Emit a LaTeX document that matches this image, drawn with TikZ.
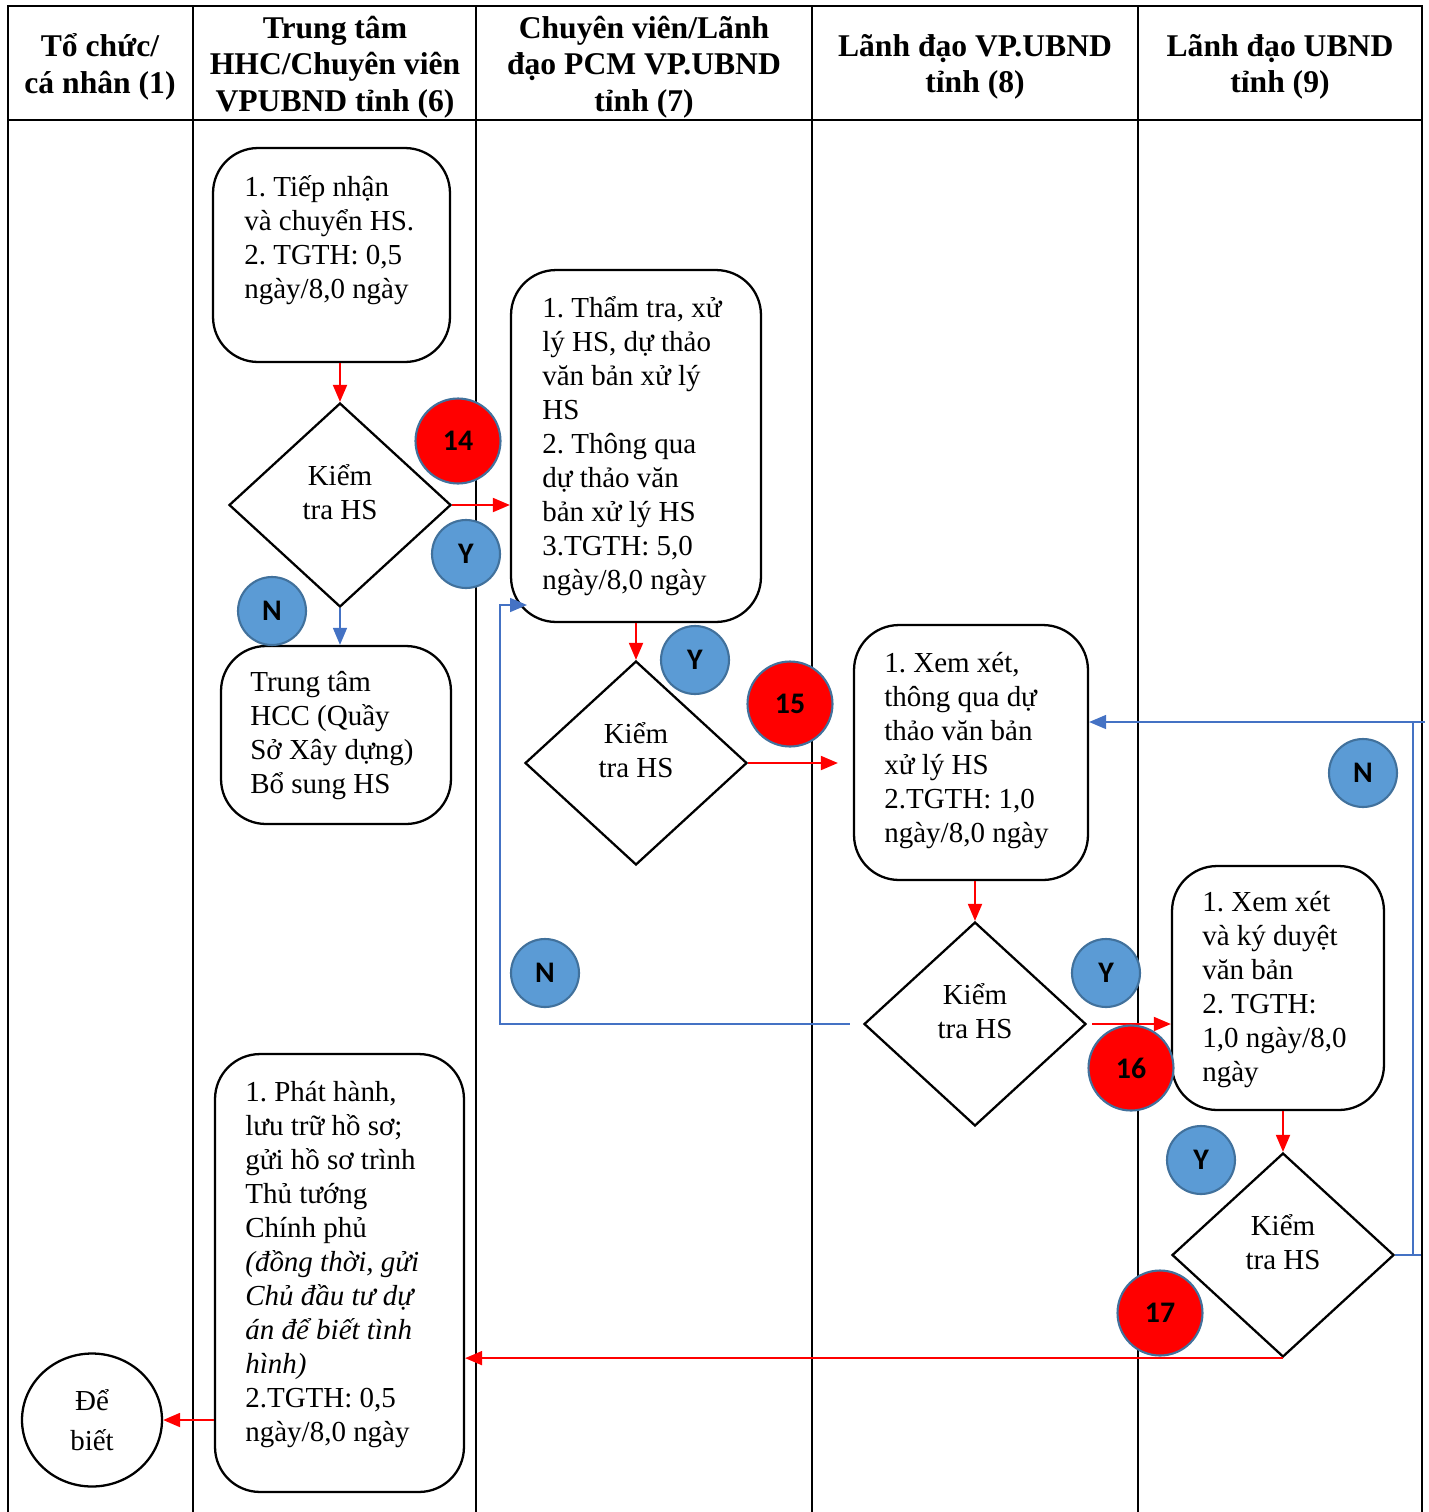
\documentclass[tikz,border=0pt]{standalone}
\usepackage{fontspec}
\setmainfont{Liberation Serif}
\newfontfamily\badgefont{Carlito}
\usetikzlibrary{arrows.meta, positioning, shapes.geometric, calc}
\definecolor{badgeblue}{HTML}{5B9BD5}
\definecolor{badgeedge}{HTML}{41719C}
\definecolor{linkblue}{HTML}{4472C4}
\frenchspacing
\tikzset{
    stepbox/.style={draw, line width=1.3pt, rounded corners=0.9cm, minimum width=#1},
    stepbox/.default=4.7cm
}

\begin{document}
\begin{tikzpicture}[
    x=0.02cm, y=-0.02cm,
    grid/.style={line width=1.1pt},
    head/.style={align=center, inner sep=0pt, yshift=-0.06cm, font=\fontsize{18}{20.8}\selectfont\bfseries},
    steptext/.style={anchor=west, align=left, inner sep=0pt, yshift=-0.06cm, font=\fontsize{16.5}{19.35}\selectfont},
    check/.style={diamond, draw, line width=1.3pt, minimum width=4.44cm, minimum height=4.08cm,
                  inner sep=0pt, align=center, text depth=0.54cm, font=\fontsize{16.5}{19.35}\selectfont},
    yesno/.style={circle, draw=badgeedge, line width=1.2pt, fill=badgeblue, minimum size=1.36cm,
                  inner sep=0pt, font=\badgefont\fontsize{17}{17}\selectfont\bfseries},
    stepno/.style={yesno, fill=red, minimum size=1.7cm},
    redarrow/.style={-{Triangle[length=0.34cm, width=0.28cm]}, red, line width=1.1pt},
    bluearrow/.style={-{Triangle[length=0.34cm, width=0.28cm]}, linkblue, line width=0.9pt}
]
\useasboundingbox (0,0) rectangle (1429,1512);

% Swimlane table
\draw[grid] (8,1512) -- (8,6) -- (1422,6) -- (1422,1512);
\draw[grid] (8,120) -- (1422,120);
\foreach \x in {193,476,812,1138} {
    \draw[grid] (\x,6) -- (\x,1512);
}

% Lane headers
\node[head] (lane1) at (100,64) {Tổ chức/\\cá nhân (1)};
\node[head] (lane6) at (335,64) {Trung tâm\\HHC/Chuyên viên\\VPUBND tỉnh (6)};
\node[head] (lane7) at (644,64) {Chuyên viên/Lãnh\\đạo PCM VP.UBND\\tỉnh (7)};
\node[head] (lane8) at (975,64) {Lãnh đạo VP.UBND\\tỉnh (8)};
\node[head] (lane9) at (1280,64) {Lãnh đạo UBND\\tỉnh (9)};

% Lane 6: receive
\node[stepbox=4.74cm, minimum height=4.28cm] (tiepnhan) at (331.5,255) {};
\node[steptext] (tiepnhan-txt) at (244,237) {1. Tiếp nhận\\và chuyển HS.\\2. TGTH: 0,5\\ngày/8,0 ngày};
\node[check] (check1) at (340,505) {Kiểm\\tra HS};
\node[stepbox=4.6cm, minimum height=3.56cm] (bosung) at (336,735) {};
\node[steptext] (bosung-txt) at (250,733) {Trung tâm\\HCC (Quầy\\Sở Xây dựng)\\Bổ sung HS};

% Lane 7: appraisal
\node[stepbox=5cm, minimum height=7.04cm] (thamtra) at (636,446) {};
\node[steptext] (thamtra-txt) at (542,443) {1. Thẩm tra, xử\\lý HS, dự thảo\\văn bản xử lý\\HS\\2. Thông qua\\dự thảo văn\\bản xử lý HS\\3.TGTH: 5,0\\ngày/8,0 ngày};
\node[check] (check2) at (636,763) {Kiểm\\tra HS};

% Lane 8: office leaders
\node[stepbox=4.68cm, minimum height=5.1cm] (xemxet) at (971,752.5) {};
\node[steptext] (xemxet-txt) at (884,748) {1. Xem xét,\\thông qua dự\\thảo văn bản\\xử lý HS\\2.TGTH: 1,0\\ngày/8,0 ngày};
\node[check] (check3) at (975,1024) {Kiểm\\tra HS};

% Lane 9: provincial leaders
\node[stepbox=4.24cm, minimum height=4.88cm] (kyduyet) at (1278,988) {};
\node[steptext] (kyduyet-txt) at (1202,987) {1. Xem xét\\và ký duyệt\\văn bản\\2. TGTH:\\1,0 ngày/8,0\\ngày};
\node[check] (check4) at (1283,1255) {Kiểm\\tra HS};

% Issue and notify
\node[stepbox=4.98cm, minimum height=8.76cm] (phathanh) at (339.5,1273) {};
\node[steptext] (phathanh-txt) at (245,1262) {1. Phát hành,\\lưu trữ hồ sơ;\\gửi hồ sơ trình\\Thủ tướng\\Chính phủ\\\textit{(đồng thời, gửi}\\\textit{Chủ đầu tư dự}\\\textit{án để biết tình}\\\textit{hình)}\\2.TGTH: 0,5\\ngày/8,0 ngày};
\node[ellipse, draw, line width=1.3pt, minimum width=2.8cm, minimum height=2.66cm, align=center,
      inner sep=0pt, font=\fontsize{16.5}{22.5}\selectfont] (debiet) at (92,1420) {Để\\biết};

% Flow
\draw[redarrow] (check1.north |- tiepnhan.south) -- (check1.north);
\draw[bluearrow] (check1.south) -- (check1.south |- bosung.north);
\draw[redarrow] (check1.east) -- (check1.east -| thamtra.west);
\draw[redarrow] (thamtra.south) -- (check2.north);
\draw[redarrow, shorten >=0.3cm] (check2.east) -- (check2.east -| xemxet.west);
\draw[redarrow] (check3.north |- xemxet.south) -- (check3.north);
\draw[redarrow, shorten <=0.1cm] (check3.east) -- (check3.east -| kyduyet.west);
\draw[redarrow] (check4.north |- kyduyet.south) -- (check4.north);
\draw[redarrow] (check4.south) -- (check4.south -| phathanh.east);
\draw[redarrow] (phathanh.west |- debiet.east) -- (debiet.east);

% Return loops
\coordinate (backC) at (500,605);
\coordinate (backE) at (1413,722);
\draw[bluearrow, shorten <=0.26cm] (check3.west) -- (check3.west -| backC) -- (backC) -- ++(27,0);
\draw[linkblue, line width=0.9pt] (check4.east) -- ++(26,0);
\draw[bluearrow] (check4.east -| backE) -- (backE) -- (backE -| xemxet.east);
\draw[linkblue, line width=0.9pt] (backE) -- ++(12,0);

% Badges
\foreach \pos/\txt [count=\i] in {{(272,611)}/N, {(466,554)}/Y, {(695,660)}/Y, {(545,973)}/N,
                                  {(1106,973)}/Y, {(1201,1160)}/Y, {(1363,773)}/N} {
    \node[yesno] (yn\i) at \pos {\txt};
}
\foreach \pos/\txt in {{(458,441)}/14, {(790,704)}/15, {(1131,1068)}/16, {(1160,1313)}/17} {
    \node[stepno] (no\txt) at \pos {\txt};
}

\end{tikzpicture}
\end{document}
